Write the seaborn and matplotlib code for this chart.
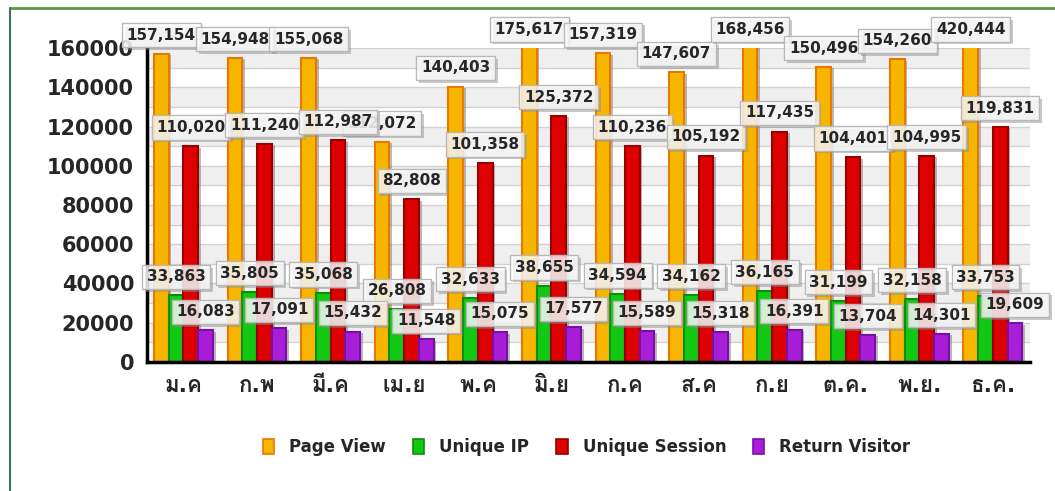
import numpy as np
import pandas as pd
import matplotlib
matplotlib.use("Agg")
import matplotlib.pyplot as plt
import matplotlib.patheffects as pe
from matplotlib import font_manager
from matplotlib.ft2font import FT2Font
from matplotlib.patches import Patch
from matplotlib.lines import Line2D
import seaborn as sns

# data
months = ["ม.ค", "ก.พ", "มี.ค", "เม.ย", "พ.ค", "มิ.ย", "ก.ค", "ส.ค", "ก.ย", "ต.ค.", "พ.ย.", "ธ.ค."]
page_view = [157154, 154948, 155068, 112072, 140403, 175617, 157319, 147607, 168456, 150496, 154260, 420444]
unique_ip = [33863, 35805, 35068, 26808, 32633, 38655, 34594, 34162, 36165, 31199, 32158, 33753]
unique_session = [110020, 111240, 112987, 82808, 101358, 125372, 110236, 105192, 117435, 104401, 104995, 119831]
return_visitor = [16083, 17091, 15432, 11548, 15075, 17577, 15589, 15318, 16391, 13704, 14301, 19609]
series_names = ["Page View", "Unique IP", "Unique Session", "Return Visitor"]
y_ticks = [0, 20000, 40000, 60000, 80000, 100000, 120000, 140000, 160000]

colors = ["#F7B500", "#12C812", "#DD0000", "#A81ED8"]
edges = ["#E87800", "#0A8F0A", "#990000", "#7A0FA8"]
ymax = 160000


def find_thai_font():
    # look for any installed font that has Thai glyphs
    found = []
    for f in font_manager.fontManager.ttflist:
        try:
            if 0x0E21 in FT2Font(f.fname).get_charmap():
                found.append(f)
        except Exception:
            pass
    if not found:
        return None
    # prefer a family that has a bold face
    for f in found:
        if f.weight in ("bold", 700) or (isinstance(f.weight, int) and f.weight >= 600):
            return f.name
    return found[0].name


sns.set_style("white")
thai = find_thai_font()
fams = ["DejaVu Sans"]
if thai:
    fams.append(thai)
plt.rcParams["font.family"] = fams

df = pd.DataFrame({
    "month": months * 4,
    "series": sum([[s] * len(months) for s in series_names], []),
    "value": page_view + unique_ip + unique_session + return_visitor,
})

fig = plt.figure(figsize=(10.55, 4.91), dpi=100)
ax = fig.add_axes([0.139, 0.263, 0.837, 0.639])

# alternating background bands + grid
for k in range(0, 16):
    lo, hi = k * 10000, (k + 1) * 10000
    if k % 2 == 1:
        ax.axhspan(lo, hi, color="#efefef", zorder=0, lw=0)
    ax.axhline(hi, color="#d2d2d2", lw=1, zorder=0.5)

sns.barplot(data=df, x="month", y="value", hue="series", hue_order=series_names,
            palette=colors, saturation=1, width=0.8, legend=False, ax=ax, zorder=2)

bar_shadow = [pe.SimplePatchShadow(offset=(2, -1), shadow_rgbFace="#777777", alpha=0.5), pe.Normal()]
for cont, ec in zip(ax.containers, edges):
    for bar in cont:
        bar.set_edgecolor(ec)
        bar.set_linewidth(1.5)
        bar.set_path_effects(bar_shadow)

ax.set_ylim(0, ymax)
ax.set_xlim(-0.5, len(months) - 0.5)

# value labels
box_shadow = [pe.SimplePatchShadow(offset=(2, -2), shadow_rgbFace="#888888", alpha=0.45), pe.Normal()]
for cont in ax.containers:
    for bar in cont:
        v = int(round(bar.get_height()))
        x = bar.get_x() + bar.get_width() / 2
        t = ax.annotate(f"{v:,}", (x, min(v, ymax)), xytext=(0, 8), textcoords="offset points",
                        ha="center", va="bottom", fontsize=11, fontweight="bold",
                        bbox=dict(boxstyle="square,pad=0.3", fc=(1, 1, 1, 0.78), ec="#b8b8b8", lw=1),
                        annotation_clip=False, zorder=5)
        t.get_bbox_patch().set_path_effects(box_shadow)

ax.set_xlabel("")
ax.set_ylabel("")
ax.set_yticks(y_ticks)
ax.set_yticklabels([str(t) for t in y_ticks], fontsize=15, fontweight="bold")
ax.set_xticks(range(len(months)))
ax.set_xticklabels(months, fontsize=16, fontweight="bold")
ax.set_xticks(np.arange(-0.5, len(months)), minor=True)
ax.tick_params(axis="x", which="major", length=0, pad=10)
ax.tick_params(axis="x", which="minor", length=8, width=2, direction="out", color="black")
ax.tick_params(axis="y", length=7, width=2, direction="out", color="black", pad=2)

for s in ["top", "right"]:
    ax.spines[s].set_visible(False)
for s in ["left", "bottom"]:
    ax.spines[s].set_linewidth(2.5)
    ax.spines[s].set_color("black")
    ax.spines[s].set_zorder(4)

handles = [Patch(facecolor=c, edgecolor=e, lw=1.2) for c, e in zip(colors, edges)]
fig.legend(handles, series_names, loc="center", bbox_to_anchor=(0.556, 0.09), ncol=4,
           frameon=False, prop={"weight": "bold", "size": 12},
           handlelength=0.7, handleheight=1.0, columnspacing=1.6, handletextpad=0.9)

# outer frame lines
fig.add_artist(Line2D([0.0095, 1.0], [0.984, 0.984], transform=fig.transFigure, color="#5f9a4a", lw=2))
fig.add_artist(Line2D([0.0095, 0.0095], [0.0, 0.984], transform=fig.transFigure, color="#3f6f6a", lw=1.5))

fig.savefig("out.png", dpi=100)
